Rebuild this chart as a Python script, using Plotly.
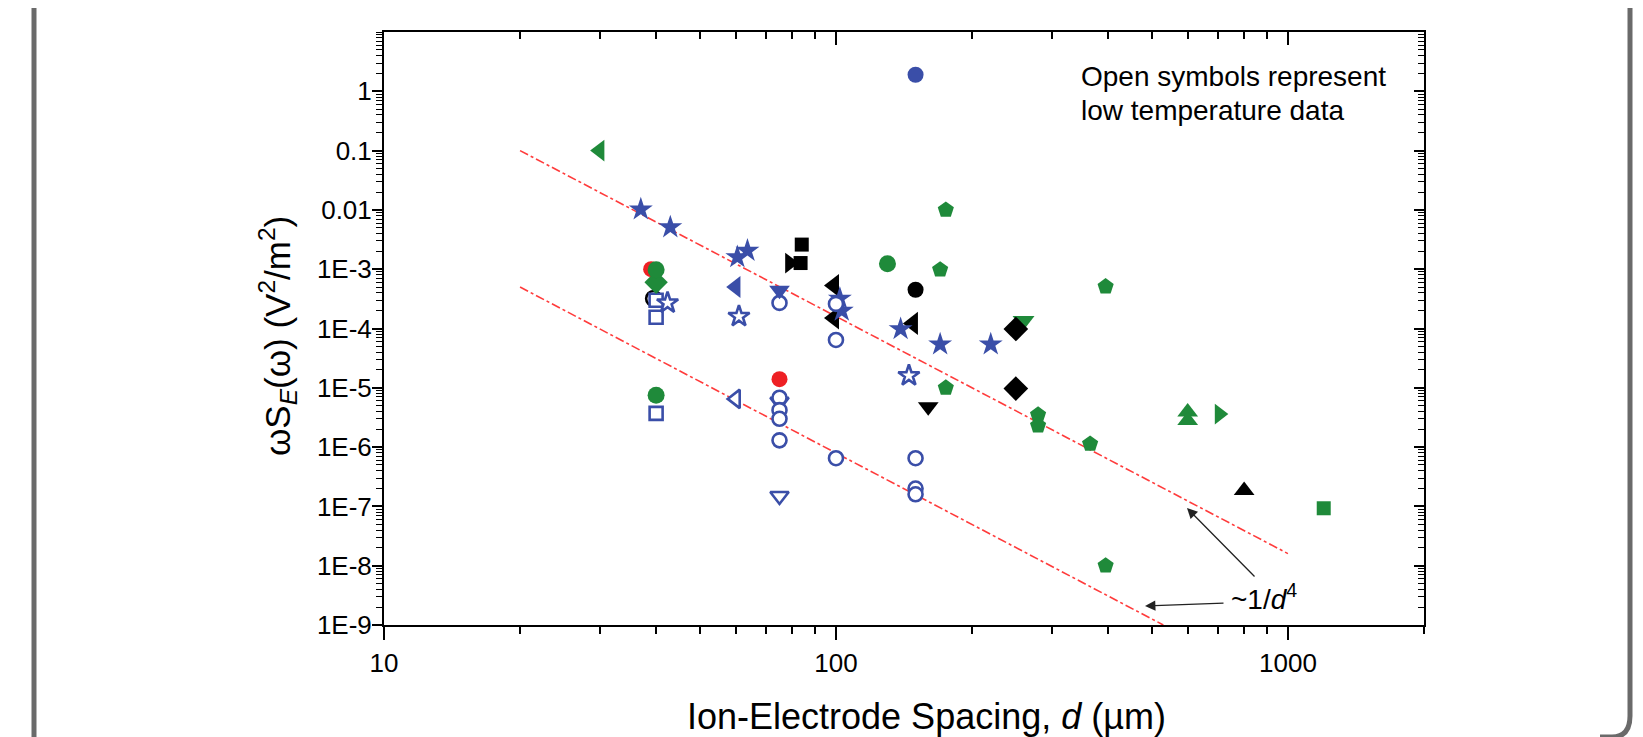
import plotly.graph_objects as go
import math

# ---------------- data (d in um, value in V^2/m^2) ----------------
blue_circle_d = [150]
blue_circle_v = [1.9]
blue_star_d = [37, 43, 60.5, 63.7, 102, 103, 139, 170, 220]
blue_star_v = [0.0102, 5.1e-3, 1.6e-3, 2.05e-3, 3.2e-4, 2.0e-4, 9.8e-5, 5.4e-5, 5.4e-5]
blue_tri_left_d = [60]
blue_tri_left_v = [5e-4]
blue_tri_down_d = [75]
blue_tri_down_v = [4.4e-4]
blue_open_circle_d = [75, 100, 100, 75, 75, 75, 75, 100, 150, 150, 150]
blue_open_circle_v = [2.7e-4, 2.6e-4, 6.4e-5, 6.8e-6, 4.2e-6, 3.0e-6, 1.3e-6, 6.5e-7, 6.5e-7, 2.0e-7, 1.6e-7]
blue_open_tri_down_d = [75, 75]
blue_open_tri_down_v = [5.8e-6, 1.5e-7]
blue_open_square_d = [40, 40, 40]
blue_open_square_v = [3.0e-4, 1.55e-4, 3.7e-6]
blue_open_star_d = [42.4, 61, 145]
blue_open_star_v = [2.7e-4, 1.6e-4, 1.6e-5]
blue_open_tri_left_d = [60]
blue_open_tri_left_v = [6.5e-6]

black_square_d = [84, 83.5]
black_square_v = [2.6e-3, 1.27e-3]
black_tri_right_d = [79]
black_tri_right_v = [1.27e-3]
black_tri_left_d = [99, 99, 148]
black_tri_left_v = [5.3e-4, 1.5e-4, 1.22e-4]
black_circle_d = [150]
black_circle_v = [4.5e-4]
black_open_circle_d = [39.5]
black_open_circle_v = [3.2e-4]
black_diamond_d = [250, 250]
black_diamond_v = [9.8e-5, 9.7e-6]
black_tri_down_d = [160]
black_tri_down_v = [4.8e-6]
black_tri_up_d = [800]
black_tri_up_v = [1.85e-7]

green_tri_left_d = [30]
green_tri_left_v = [0.1]
green_circle_d = [40, 130, 40]
green_circle_v = [9.8e-4, 1.24e-3, 7.5e-6]
green_diamond_d = [40]
green_diamond_v = [6.0e-4]
green_pentagon_d = [175, 170, 395, 175, 280, 280, 365, 395]
green_pentagon_v = [0.01, 9.8e-4, 5.1e-4, 1.0e-5, 3.5e-6, 2.3e-6, 1.13e-6, 1.0e-8]
green_tri_down_d = [260]
green_tri_down_v = [1.35e-4]
green_tri_up_d = [600, 600]
green_tri_up_v = [3.9e-6, 2.8e-6]
green_tri_right_d = [705]
green_tri_right_v = [3.6e-6]
green_square_d = [1200]
green_square_v = [9.3e-8]

red_circle_d = [39, 75]
red_circle_v = [1.0e-3, 1.4e-5]

upper_line_d = [20, 1000]
upper_line_v = [0.1, 1.6e-8]
lower_line_d = [20, 530]
lower_line_v = [5e-4, 1.0e-9]

x_tick_vals = [10, 100, 1000]
x_tick_text = ["10", "100", "1000"]
y_tick_vals = [1e-9, 1e-8, 1e-7, 1e-6, 1e-5, 1e-4, 1e-3, 1e-2, 1e-1, 1]
y_tick_text = ["1E-9", "1E-8", "1E-7", "1E-6", "1E-5", "1E-4", "1E-3", "0.01", "0.1", "1"]

# ---------------- style ----------------
BLUE = "#3a4ea8"
GREEN = "#1f8a3a"
BLACK = "#000000"
RED = "#ee2024"
LINE_RED = "#ff3b3b"
FONT = "Liberation Sans, Arial, sans-serif"

OFF = 8  # default page body margin
PAGE_W, PAGE_H = 1643, 737
W, H = PAGE_W - OFF, PAGE_H - OFF
# plot area in page pixels: x 384..1424, y 32..625
L, T = 384 - OFF, 32 - OFF
R, B = W - (1424 - OFF), H - (625 - OFF)
PW, PH = W - L - R, H - T - B


def px(xp):  # page pixel -> paper
    return (xp - OFF - L) / PW


def py(yp):
    return (H - B - (yp - OFF)) / PH


fig = go.Figure()

for d, v in [(upper_line_d, upper_line_v), (lower_line_d, lower_line_v)]:
    fig.add_trace(go.Scatter(x=d, y=v, mode="lines",
                             line=dict(color=LINE_RED, width=1.6, dash="dashdot"),
                             hoverinfo="skip"))


def add(d, v, symbol, color, size=16, open_=False):
    if open_:
        marker = dict(symbol=symbol, size=size, color="white",
                      line=dict(color=color, width=2.6))
    else:
        marker = dict(symbol=symbol, size=size, color=color,
                      line=dict(color=color, width=0))
    fig.add_trace(go.Scatter(x=d, y=v, mode="markers", marker=marker))


add(red_circle_d, red_circle_v, "circle", RED, 16)
add(black_open_circle_d, black_open_circle_v, "circle", BLACK, 15, True)
add(blue_open_square_d, blue_open_square_v, "square", BLUE, 13, True)
add(blue_open_star_d, blue_open_star_v, "star", BLUE, 16, True)
add(blue_open_tri_left_d, blue_open_tri_left_v, "triangle-left", BLUE, 16, True)
add(blue_open_tri_down_d, blue_open_tri_down_v, "triangle-down", BLUE, 16, True)
add(black_tri_left_d, black_tri_left_v, "triangle-left", BLACK, 20)
add(blue_star_d, blue_star_v, "star", BLUE, 18)
add(blue_open_circle_d, blue_open_circle_v, "circle", BLUE, 14, True)
add(blue_circle_d, blue_circle_v, "circle", BLUE, 16)
add(blue_tri_left_d, blue_tri_left_v, "triangle-left", BLUE, 19)
add(blue_tri_down_d, blue_tri_down_v, "triangle-down", BLUE, 18)
add(black_tri_right_d, black_tri_right_v, "triangle-right", BLACK, 18)
add(black_square_d, black_square_v, "square", BLACK, 14)
add(black_circle_d, black_circle_v, "circle", BLACK, 16)
add(black_tri_down_d, black_tri_down_v, "triangle-down", BLACK, 18)
add(black_tri_up_d, black_tri_up_v, "triangle-up", BLACK, 18)
add(green_tri_down_d, green_tri_down_v, "triangle-down", GREEN, 19)
add(black_diamond_d, black_diamond_v, "diamond", BLACK, 19)
add(green_tri_left_d, green_tri_left_v, "triangle-left", GREEN, 19)
add(green_diamond_d, green_diamond_v, "diamond", GREEN, 18)
add(green_circle_d, green_circle_v, "circle", GREEN, 17)
add(green_pentagon_d, green_pentagon_v, "pentagon", GREEN, 17)
add(green_tri_up_d, green_tri_up_v, "triangle-up", GREEN, 18)
add(green_tri_right_d, green_tri_right_v, "triangle-right", GREEN, 18)
add(green_square_d, green_square_v, "square", GREEN, 14)

# dummy trace on top/right axes so they are drawn
fig.add_trace(go.Scatter(x=[10], y=[1e-9], xaxis="x2", yaxis="y2", mode="markers",
                         marker=dict(opacity=0), hoverinfo="skip"))

xr = [1, math.log10(2000)]
yr = [-9, 1]
tickfont = dict(family=FONT, size=26, color="black")
common_x = dict(type="log", range=xr, showgrid=False, zeroline=False, showline=True,
                linecolor="black", linewidth=2, tickvals=x_tick_vals, tickwidth=2,
                tickcolor="black", ticklen=13)
common_y = dict(type="log", range=yr, showgrid=False, zeroline=False, showline=True,
                linecolor="black", linewidth=2, tickvals=y_tick_vals, tickwidth=2,
                tickcolor="black", ticklen=10)

fig.update_layout(
    width=W, height=H, autosize=False,
    margin=dict(l=L, r=R, t=T, b=B),
    paper_bgcolor="white", plot_bgcolor="white", showlegend=False,
    xaxis=dict(**common_x, ticktext=x_tick_text, ticks="outside", tickfont=tickfont,
               ticklabelstandoff=1,
               minor=dict(ticks="outside", ticklen=7, tickwidth=1.5, tickcolor="black", dtick="D1")),
    yaxis=dict(**common_y, ticktext=y_tick_text, ticks="outside", tickfont=tickfont,
               ticklabelstandoff=-5,
               minor=dict(ticks="outside", ticklen=6, tickwidth=1.2, tickcolor="black", dtick="D1")),
    xaxis2=dict(**common_x, overlaying="x", side="top", anchor="y", ticks="inside",
                showticklabels=False,
                minor=dict(ticks="inside", ticklen=7, tickwidth=1.5, tickcolor="black", dtick="D1")),
    yaxis2=dict(**common_y, overlaying="y", side="right", anchor="x", ticks="inside",
                showticklabels=False,
                minor=dict(ticks="inside", ticklen=6, tickwidth=1.2, tickcolor="black", dtick="D1")),
)

ann = []
ann.append(dict(xref="paper", yref="paper", x=px(926), y=py(716),
                text="Ion-Electrode Spacing, <i>d</i> (µm)", showarrow=False,
                font=dict(family=FONT, size=36, color="black"),
                xanchor="center", yanchor="middle"))
ann.append(dict(xref="paper", yref="paper", x=px(277), y=py(336),
                text="ωS<sub><i>E</i></sub>(ω) (V<sup>2</sup>/m<sup>2</sup>)", showarrow=False,
                textangle=-90, font=dict(family=FONT, size=35, color="black"),
                xanchor="center", yanchor="middle"))
ann.append(dict(xref="paper", yref="paper", x=px(1079), y=py(76),
                text="Open symbols represent", showarrow=False,
                font=dict(family=FONT, size=28, color="black"),
                xanchor="left", yanchor="middle"))
ann.append(dict(xref="paper", yref="paper", x=px(1079), y=py(110),
                text="low temperature data", showarrow=False,
                font=dict(family=FONT, size=28, color="black"),
                xanchor="left", yanchor="middle"))
ann.append(dict(xref="paper", yref="paper", x=px(1229), y=py(597),
                text="~1/<i>d</i><sup>4</sup>", showarrow=False,
                font=dict(family=FONT, size=28, color="black"),
                xanchor="left", yanchor="middle"))
# arrows (head at x,y ; tail offset ax, ay in px)
ann.append(dict(xref="paper", yref="paper", x=px(1187), y=py(508), ax=69, ay=70,
                text="", showarrow=True, arrowhead=2, arrowsize=1.6, arrowwidth=1.3,
                arrowcolor="#222"))
ann.append(dict(xref="paper", yref="paper", x=px(1145), y=py(606), ax=80, ay=-3,
                text="", showarrow=True, arrowhead=2, arrowsize=1.6, arrowwidth=1.3,
                arrowcolor="#222"))
fig.update_layout(annotations=ann)

# outer rounded frame (cropped)
frame_col = "#6a6a6a"
fig.add_shape(type="line", xref="paper", yref="paper",
              x0=px(34), x1=px(34), y0=py(0), y1=py(745),
              line=dict(color=frame_col, width=5))
path = (f"M {px(1630)},{py(0)} L {px(1630)},{py(716)} "
        f"Q {px(1630)},{py(737)} {px(1612)},{py(737)} L {px(1600)},{py(737)}")
fig.add_shape(type="path", xref="paper", yref="paper", path=path,
              line=dict(color=frame_col, width=5))

fig.write_html("out.html")
